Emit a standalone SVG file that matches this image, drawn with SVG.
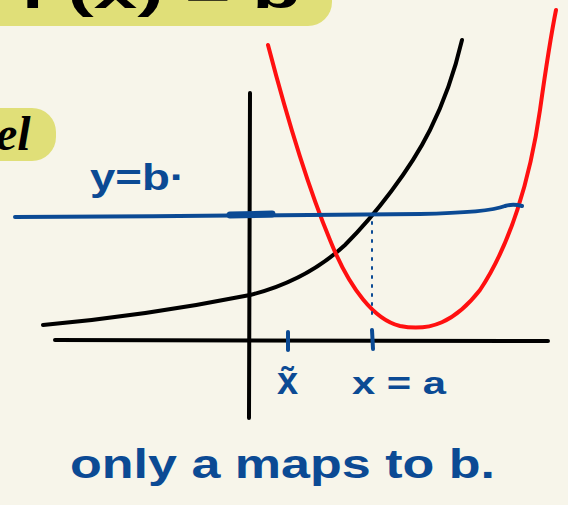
<svg xmlns="http://www.w3.org/2000/svg" width="568" height="505" viewBox="0 0 568 505">
<style>
.hand{font-family:"Liberation Sans",Arial,sans-serif;font-weight:bold;}
.blue{fill:#0B4A94;}
.ink{fill:none;stroke-linecap:round;stroke-linejoin:round;}
</style>
<rect width="568" height="505" fill="#F7F5EA"/>
<g id="banner-top">
<rect x="-30" y="-40" width="362" height="66" rx="24" fill="#E0DF78"/>
<text class="hand" x="20" y="8" font-size="44" fill="#000" textLength="280" lengthAdjust="spacingAndGlyphs">f (x) = b</text>
</g>
<g id="banner-left">
<rect x="-30" y="108" width="86" height="53" rx="24" fill="#E0DF78"/>
<text x="-4" y="150" font-family="Liberation Serif,serif" font-style="italic" font-weight="bold" font-size="48" fill="#000">el</text>
</g>
<g id="axes">
<path class="ink" d="M250 93 L249 418" stroke="#000" stroke-width="4"/>
<path class="ink" d="M55 340 L548 341" stroke="#000" stroke-width="4"/>
</g>
<g id="curves">
<path class="ink" d="M43 325 C120 318 200 305 250 295 C290 285 320 268 345 245 C375 215 410 170 430 130 C445 100 455 70 462 40" stroke="#000" stroke-width="4"/>
<path class="ink" d="M268 45 C285 110 305 180 330 240 C350 290 375 320 400 326 C430 332 455 322 480 290 C510 245 530 180 540 110 C547 60 552 30 556 10" stroke="#FF1010" stroke-width="4"/>
<path class="ink" d="M15 217 C150 216 300 216 420 214 C470 213 495 210 505 206 C512 204 518 205 522 206" stroke="#0B4A94" stroke-width="4"/>
<path class="ink" d="M230 215 L272 214" stroke="#0B4A94" stroke-width="7"/>
<path class="ink" d="M372 222 L372 318" stroke="#0B4A94" stroke-width="2" stroke-dasharray="2 7"/>
<path class="ink" d="M288 332 L288 350" stroke="#0B4A94" stroke-width="4"/>
<path class="ink" d="M372 330 L373 349" stroke="#0B4A94" stroke-width="4"/>
</g>
<g id="labels">
<text class="hand blue" x="90" y="190" font-size="36" textLength="95" lengthAdjust="spacingAndGlyphs">y=b·</text>
<text class="hand blue" x="277" y="394" font-size="38">x̃</text>
<text class="hand blue" x="352" y="394" font-size="32" textLength="94" lengthAdjust="spacingAndGlyphs">x = a</text>
<text class="hand blue" x="70" y="478" font-size="40" textLength="425" lengthAdjust="spacingAndGlyphs">only a maps to b.</text>
</g>
</svg>
